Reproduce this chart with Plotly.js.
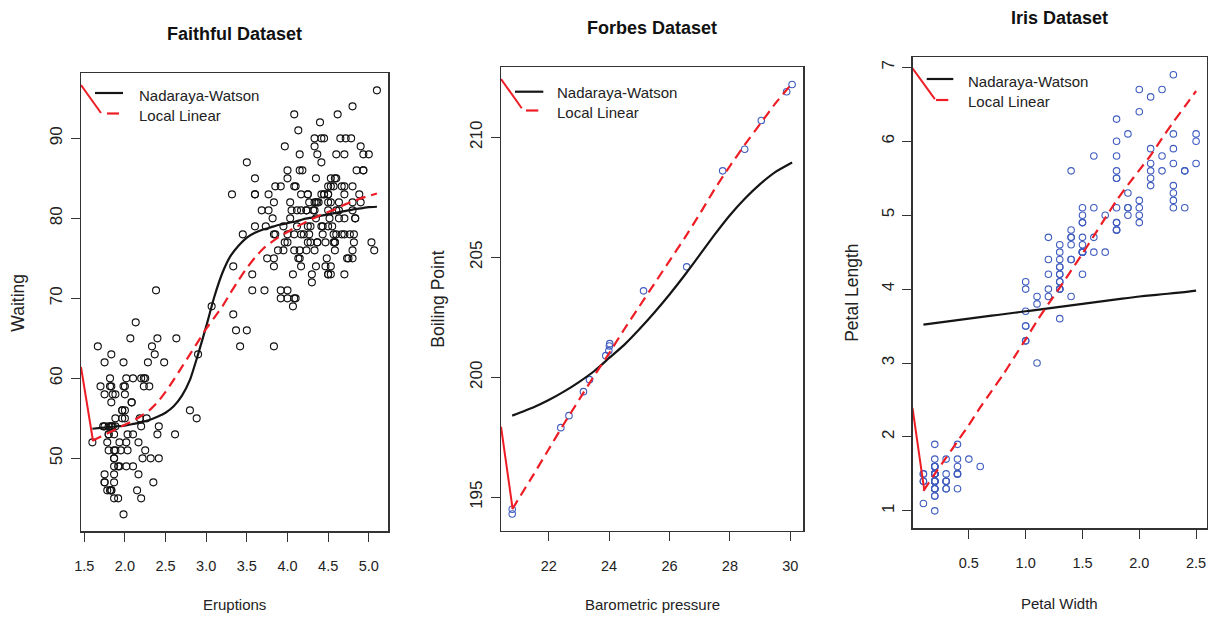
<!DOCTYPE html>
<html><head><meta charset="utf-8">
<script src="https://cdn.plot.ly/plotly-3.0.1.min.js"></script>
<style>html,body{margin:0;padding:0;background:#fff}#chart{width:1208px;height:617px}</style>
</head><body><div id="chart"></div>
<script>
// ---------------- Faithful data ----------------
const faithfulEruptions = [
3.600,1.800,3.333,2.283,4.533,2.883,4.700,3.600,1.950,4.350,
1.833,3.917,4.200,1.750,4.700,2.167,1.750,4.800,1.600,4.250,
1.800,1.750,3.450,3.067,4.533,3.600,1.967,4.083,3.850,4.433,
4.300,4.467,3.367,4.033,3.833,2.017,1.867,4.833,1.833,4.783,
4.350,1.883,4.567,1.750,4.533,3.317,3.833,2.100,4.633,2.000,
4.800,4.716,1.833,4.833,1.733,4.883,3.717,1.667,4.567,4.317,
2.233,4.500,1.750,4.800,1.817,4.400,4.167,4.700,2.067,4.700,
4.033,1.967,4.500,4.000,1.983,5.067,2.017,4.567,3.883,3.600,
4.133,4.333,4.100,2.633,4.067,4.933,3.950,4.517,2.167,4.000,
2.200,4.333,1.867,4.817,1.833,4.300,4.667,3.750,1.867,4.900,
2.483,4.367,2.100,4.500,4.050,1.867,4.700,1.783,4.850,3.683,
4.733,2.300,4.900,4.417,1.700,4.633,2.317,4.600,1.817,4.417,
2.617,4.067,4.250,1.967,4.600,3.767,1.917,4.500,2.267,4.650,
1.867,4.167,2.800,4.333,1.833,4.383,1.883,4.933,2.033,3.733,
4.233,2.233,4.533,4.817,4.333,1.983,4.633,2.017,5.100,1.800,
5.033,4.000,2.400,4.600,3.567,4.000,4.500,4.083,1.800,3.967,
2.200,4.150,2.000,3.833,3.500,4.583,2.367,5.000,1.933,4.617,
1.917,2.083,4.583,3.333,4.167,4.333,4.500,2.417,4.000,4.167,
1.883,4.583,4.250,3.767,2.033,4.433,4.083,1.833,4.417,2.183,
4.800,1.833,4.800,4.100,3.966,4.233,3.500,4.366,2.250,4.667,
2.100,4.350,4.133,1.867,4.600,1.783,4.367,3.850,1.933,4.500,
2.383,4.700,1.867,3.833,3.417,4.233,2.400,4.800,2.000,4.150,
1.867,4.267,1.750,4.483,4.000,4.117,4.083,4.267,3.917,4.550,
4.083,2.417,4.183,2.217,4.450,1.883,1.850,4.283,3.950,2.333,
4.150,2.350,4.933,2.900,4.583,3.833,2.083,4.367,2.133,4.350,
2.200,4.450,3.567,4.500,4.150,3.817,3.917,4.450,2.000,4.283,
4.767,4.533,1.850,4.250,1.983,2.250,4.750,4.117,2.150,4.417,
1.817,4.467];
const faithfulWaiting = [
79,54,74,62,85,55,88,85,51,85,
54,84,78,47,83,52,62,84,52,79,
51,47,78,69,74,83,55,76,78,79,
73,77,66,80,74,52,48,80,59,90,
80,58,84,58,73,83,64,53,82,59,
75,90,54,80,54,83,71,64,77,81,
59,84,48,82,60,92,78,78,65,73,
82,56,79,71,62,76,60,78,76,83,
75,82,70,65,73,88,76,80,48,86,
60,90,50,78,63,72,84,75,51,82,
62,88,49,83,81,47,84,52,86,81,
75,59,89,79,59,81,50,85,59,87,
53,69,77,56,88,81,45,82,55,90,
45,83,56,89,46,82,51,86,53,79,
81,60,82,77,76,59,80,49,96,53,
77,77,65,81,71,70,81,93,53,89,
45,86,58,78,66,76,63,88,52,93,
49,57,77,68,81,81,73,50,85,74,
55,77,83,83,51,78,84,46,83,55,
81,57,76,84,77,81,87,77,51,78,
60,82,91,53,78,46,77,84,49,83,
71,80,49,75,64,76,53,94,55,76,
50,82,54,75,78,79,78,78,70,79,
70,54,86,50,90,54,54,77,79,64,
75,47,86,63,85,82,57,82,67,74,
54,83,73,73,88,80,71,83,56,79,
78,84,58,83,43,60,75,81,46,90,
46,74];
const faithfulGridX = [1.6,1.7,1.8,1.9,2.0,2.1,2.2,2.3,2.4,2.5,2.6,2.7,2.8,2.9,3.0,3.1,3.2,3.3,3.4,3.5,3.6,3.7,3.8,3.9,4.0,4.1,4.2,4.3,4.4,4.5,4.6,4.7,4.8,4.9,5.0,5.1];
const faithfulNW = [53.7,53.8,53.9,54.0,54.1,54.3,54.5,54.8,55.2,55.7,56.5,57.8,59.8,63.0,66.5,70.2,73.2,75.3,76.6,77.6,78.2,78.6,78.9,79.2,79.4,79.6,79.9,80.1,80.3,80.5,80.7,80.9,81.1,81.25,81.4,81.45];
const faithfulLL = [52.2,52.7,53.2,53.7,54.2,54.7,55.3,56.0,57.0,58.3,59.8,61.4,63.0,64.6,66.2,67.6,69.0,70.7,72.3,73.8,75.1,76.2,77.0,77.7,78.3,78.9,79.4,79.9,80.4,80.8,81.2,81.7,82.1,82.5,82.8,83.1];
const faithfulLeadLowX = [1.46,1.608];
const faithfulLeadLowY = [61.42,52.17];
const faithfulLeadTopX = [1.46,1.706];
const faithfulLeadTopY = [96.67,93.17];

// ---------------- Forbes data ----------------
const forbesPressure = [20.79,20.79,22.40,22.67,23.15,23.35,23.89,23.99,24.02,24.01,25.14,26.57,28.49,27.76,29.04,29.88,30.06];
const forbesBoiling  = [194.5,194.3,197.9,198.4,199.4,199.9,200.9,201.1,201.4,201.3,203.6,204.6,209.5,208.6,210.7,211.9,212.2];
const forbesGridX = [20.79,21.5,22.0,22.5,23.0,23.5,24.0,24.5,25.0,25.5,26.0,26.5,27.0,27.5,28.0,28.5,29.0,29.5,30.06];
const forbesNW = [198.4,198.75,199.05,199.4,199.8,200.25,200.8,201.35,202.0,202.7,203.45,204.25,205.1,205.95,206.75,207.45,208.05,208.55,208.95];
const forbesLL = [194.5,195.95,197.0,198.05,199.05,200.05,201.0,202.0,202.95,203.9,204.85,205.8,206.8,207.85,208.8,209.7,210.55,211.4,212.25];
const forbesLeadLowX = [20.42,20.8];
const forbesLeadLowY = [197.94,194.55];
const forbesLeadTopX = [20.42,21.106];
const forbesLeadTopY = [212.43,211.21];

// ---------------- Iris data ----------------
const irisPetalWidth = [
0.2,0.2,0.2,0.2,0.2,0.4,0.3,0.2,0.2,0.1,0.2,0.2,0.1,0.1,0.2,0.4,0.4,0.3,0.3,0.3,0.2,0.4,0.2,0.5,0.2,0.2,0.4,0.2,0.2,0.2,0.2,0.4,0.1,0.2,0.2,0.2,0.2,0.1,0.2,0.2,0.3,0.3,0.2,0.6,0.4,0.3,0.2,0.2,0.2,0.2,
1.4,1.5,1.5,1.3,1.5,1.3,1.6,1.0,1.3,1.4,1.0,1.5,1.0,1.4,1.3,1.4,1.5,1.0,1.5,1.1,1.8,1.3,1.5,1.2,1.3,1.4,1.4,1.7,1.5,1.0,1.1,1.0,1.2,1.6,1.5,1.6,1.5,1.3,1.3,1.3,1.2,1.4,1.2,1.0,1.3,1.2,1.3,1.3,1.1,1.3,
2.5,1.9,2.1,1.8,2.2,2.1,1.7,1.8,1.8,2.5,2.0,1.9,2.1,2.0,2.4,2.3,1.8,2.2,2.3,1.5,2.3,2.0,2.0,1.8,2.1,1.8,1.8,1.8,2.1,1.6,1.9,2.0,2.2,1.5,1.4,2.3,2.4,1.8,1.8,2.1,2.4,2.3,1.9,2.3,2.5,2.3,1.9,2.0,2.3,1.8];
const irisPetalLength = [
1.4,1.4,1.3,1.5,1.4,1.7,1.4,1.5,1.4,1.5,1.5,1.6,1.4,1.1,1.2,1.5,1.3,1.4,1.7,1.5,1.7,1.5,1.0,1.7,1.9,1.6,1.6,1.5,1.4,1.6,1.6,1.5,1.5,1.4,1.5,1.2,1.3,1.4,1.3,1.5,1.3,1.3,1.3,1.6,1.9,1.4,1.6,1.4,1.5,1.4,
4.7,4.5,4.9,4.0,4.6,4.5,4.7,3.3,4.6,3.9,3.5,4.2,4.0,4.7,3.6,4.4,4.5,4.1,4.5,3.9,4.8,4.0,4.9,4.7,4.3,4.4,4.8,5.0,4.5,3.5,3.8,3.7,3.9,5.1,4.5,4.5,4.7,4.4,4.1,4.0,4.4,4.6,4.0,3.3,4.2,4.2,4.2,4.3,3.0,4.1,
6.0,5.1,5.9,5.6,5.8,6.6,4.5,6.3,5.8,6.1,5.1,5.3,5.5,5.0,5.1,5.3,5.5,6.7,6.9,5.0,5.7,4.9,6.7,4.9,5.7,6.0,4.8,4.9,5.6,5.8,6.1,6.4,5.6,5.1,5.6,6.1,5.6,5.5,4.8,5.4,5.6,5.1,5.1,5.9,5.7,5.2,5.0,5.2,5.4,5.1];
const irisGridX = [0.1,0.2,0.3,0.4,0.5,0.6,0.7,0.8,0.9,1.0,1.1,1.2,1.3,1.4,1.5,1.6,1.7,1.8,1.9,2.0,2.1,2.2,2.3,2.4,2.5];
const irisNW = [3.52,3.54,3.56,3.58,3.60,3.62,3.64,3.66,3.68,3.70,3.72,3.74,3.76,3.78,3.80,3.82,3.84,3.86,3.88,3.90,3.915,3.93,3.945,3.96,3.98];
const irisLL = [1.27,1.50,1.72,1.94,2.16,2.40,2.62,2.84,3.08,3.32,3.57,3.80,4.02,4.25,4.48,4.72,4.96,5.20,5.41,5.61,5.81,6.04,6.26,6.47,6.68];
const irisLeadLowX = [0.004,0.107];
const irisLeadLowY = [2.393,1.286];
const irisLeadTopX = [0.004,0.201];
const irisLeadTopY = [6.987,6.571];

// ---------------- labels ----------------
const panelTitles = ["Faithful Dataset","Forbes Dataset","Iris Dataset"];
const xTitles = ["Eruptions","Barometric pressure","Petal Width"];
const yTitles = ["Waiting","Boiling Point","Petal Length"];
const legendLabels = ["Nadaraya-Watson","Local Linear"];
const faithfulXTicks = [1.5,2.0,2.5,3.0,3.5,4.0,4.5,5.0];
const faithfulYTicks = [50,60,70,80,90];
const forbesXTicks = [22,24,26,28,30];
const forbesYTicks = [195,200,205,210];
const irisXTicks = [0.5,1.0,1.5,2.0,2.5];
const irisYTicks = [1,2,3,4,5,6,7];

// ---------------- styling ----------------
const W = 1208, H = 617;
const FONT = "Liberation Sans, Arial, Helvetica, sans-serif";
const BLUE = "#3f5cbf";
const RED = "#ee1d25";
const DARK = "#151515";
const px = x => x / W;
const py = y => 1 - y / H;

// panel boxes in pixels: [left, right, top, bottom]
const boxes = [[81, 388.3, 73.4, 531.3],[501, 803.3, 67.3, 531.2],[912.5, 1207, 57.3, 528.3]];

const traces = [];
function addPanel(i, xs, ys, ptColor, ptSize, gx, nw, ll, lowX, lowY, topX, topY) {
  const xa = i === 0 ? 'x' : 'x' + (i + 1);
  const ya = i === 0 ? 'y' : 'y' + (i + 1);
  traces.push({type:'scatter', mode:'markers', x:xs, y:ys, xaxis:xa, yaxis:ya,
    marker:{symbol:'circle-open', size:ptSize, color:ptColor, line:{width:1.1, color:ptColor}},
    showlegend:false, hoverinfo:'skip'});
  traces.push({type:'scatter', mode:'lines', x:gx, y:nw, xaxis:xa, yaxis:ya, name:legendLabels[0],
    line:{color:DARK, width:2.2, shape:'spline', smoothing:0.5}, showlegend:false});
  traces.push({type:'scatter', mode:'lines', x:gx, y:ll, xaxis:xa, yaxis:ya, name:legendLabels[1],
    line:{color:RED, width:2.2, dash:'10px,6px', shape:'spline', smoothing:0.5}, showlegend:false});
  traces.push({type:'scatter', mode:'lines', x:lowX, y:lowY, xaxis:xa, yaxis:ya,
    line:{color:RED, width:2}, showlegend:false, hoverinfo:'skip'});
  traces.push({type:'scatter', mode:'lines', x:topX, y:topY, xaxis:xa, yaxis:ya,
    line:{color:RED, width:2}, showlegend:false, hoverinfo:'skip'});
}
addPanel(0, faithfulEruptions, faithfulWaiting, "#111", 7, faithfulGridX, faithfulNW, faithfulLL,
  faithfulLeadLowX, faithfulLeadLowY, faithfulLeadTopX, faithfulLeadTopY);
addPanel(1, forbesPressure, forbesBoiling, BLUE, 6.5, forbesGridX, forbesNW, forbesLL,
  forbesLeadLowX, forbesLeadLowY, forbesLeadTopX, forbesLeadTopY);
addPanel(2, irisPetalWidth, irisPetalLength, BLUE, 6.5, irisGridX, irisNW, irisLL,
  irisLeadLowX, irisLeadLowY, irisLeadTopX, irisLeadTopY);

function axisBase(extra) {
  return Object.assign({
    showgrid:false, zeroline:false, showline:true, mirror:true,
    linecolor:'#333', linewidth:1.2, ticks:'outside', ticklen:9, tickwidth:1, tickcolor:'#333',
    tickfont:{family:FONT, size:14.5, color:'#222'}, tickmode:'array', fixedrange:true
  }, extra);
}
const yTickFont = {family:FONT, size:17, color:'#222'};
const fmt1 = v => v.toFixed(1);
const layout = {
  width:W, height:H, margin:{l:0,r:0,t:0,b:0}, paper_bgcolor:'#fff', plot_bgcolor:'#fff',
  showlegend:false, font:{family:FONT, color:'#222'},
  xaxis: axisBase({domain:[px(boxes[0][0]), px(boxes[0][1])], range:[1.46,5.24], anchor:'y',
    tickvals:faithfulXTicks, ticktext:faithfulXTicks.map(fmt1), ticklabelstandoff:12}),
  yaxis: axisBase({domain:[py(boxes[0][3]), py(boxes[0][2])], range:[40.88,98.12], anchor:'x',
    tickvals:faithfulYTicks, ticktext:faithfulYTicks.map(String), tickangle:-90, ticklabelstandoff:2, tickfont:yTickFont}),
  xaxis2: axisBase({domain:[px(boxes[1][0]), px(boxes[1][1])], range:[20.4192,30.4308], anchor:'y2',
    tickvals:forbesXTicks, ticktext:forbesXTicks.map(String), ticklabelstandoff:12}),
  yaxis2: axisBase({domain:[py(boxes[1][3]), py(boxes[1][2])], range:[193.584,212.916], anchor:'x2',
    tickvals:forbesYTicks, ticktext:forbesYTicks.map(String), tickangle:-90, ticklabelstandoff:2, tickfont:yTickFont}),
  xaxis3: axisBase({domain:[px(boxes[2][0]), px(boxes[2][1])], range:[0.004,2.596], anchor:'y3',
    tickvals:irisXTicks, ticktext:irisXTicks.map(fmt1), ticklabelstandoff:12}),
  yaxis3: axisBase({domain:[py(boxes[2][3]), py(boxes[2][2])], range:[0.764,7.136], anchor:'x3',
    tickvals:irisYTicks, ticktext:irisYTicks.map(String), tickangle:-90, ticklabelstandoff:2, tickfont:yTickFont}),
  shapes:[], annotations:[]
};

// titles and axis titles
const titleY = [34.5, 28.4, 18.4];
const xTitleY = [604.3, 604, 603];
const yTitleX = [18.3, 438.5, 852];
boxes.forEach((b, i) => {
  const cx = (b[0] + b[1]) / 2, cy = (b[2] + b[3]) / 2;
  layout.annotations.push({xref:'paper', yref:'paper', x:px(cx), y:py(titleY[i]), xanchor:'center', yanchor:'middle',
    text:'<b>' + panelTitles[i] + '</b>', showarrow:false, font:{family:FONT, size:18, color:'#111'}});
  layout.annotations.push({xref:'paper', yref:'paper', x:px(cx), y:py(xTitleY[i]), xanchor:'center', yanchor:'middle',
    text:xTitles[i], showarrow:false, font:{family:FONT, size:15, color:'#222'}});
  layout.annotations.push({xref:'paper', yref:'paper', x:px(yTitleX[i]), y:py(cy), xanchor:'center', yanchor:'middle',
    text:yTitles[i], textangle:-90, showarrow:false, font:{family:FONT, size:17.5, color:'#222'}});
});

// legends (drawn per panel): [sampleX0, sampleX1, blackY, redY, redDashX0, redDashX1, textX, text1Y, text2Y]
const legendPos = [
  [95,123,93,113.5,107,119,137.3,95.5,115.8],
  [515,543.3,91.7,110.5,526,538.3,555,92.5,112],
  [926.7,953.3,79,100,936,948.3,966,81.5,101.7]];
legendPos.forEach(p => {
  layout.shapes.push({type:'line', xref:'paper', yref:'paper', x0:px(p[0]), x1:px(p[1]), y0:py(p[2]), y1:py(p[2]),
    line:{color:DARK, width:2.2}});
  layout.shapes.push({type:'line', xref:'paper', yref:'paper', x0:px(p[4]), x1:px(p[5]), y0:py(p[3]), y1:py(p[3]),
    line:{color:RED, width:2.2}});
  layout.annotations.push({xref:'paper', yref:'paper', x:px(p[6]), y:py(p[7]), xanchor:'left', yanchor:'middle',
    text:legendLabels[0], showarrow:false, font:{family:FONT, size:15, color:'#222'}});
  layout.annotations.push({xref:'paper', yref:'paper', x:px(p[6]), y:py(p[8]), xanchor:'left', yanchor:'middle',
    text:legendLabels[1], showarrow:false, font:{family:FONT, size:15, color:'#222'}});
});

Plotly.newPlot('chart', traces, layout, {staticPlot:true, displayModeBar:false});
</script>
</body></html>
